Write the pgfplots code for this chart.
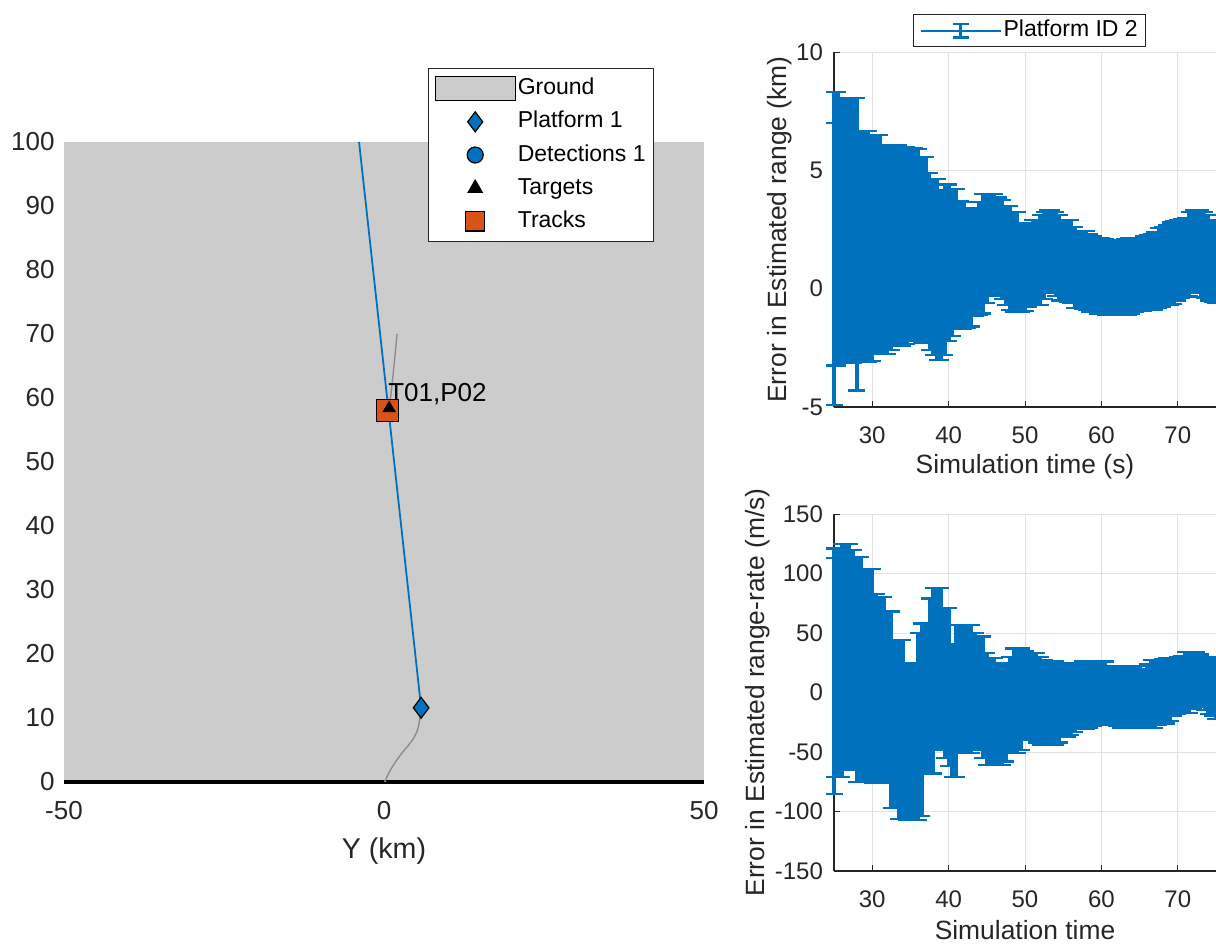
\documentclass[border=0pt]{standalone}
\usepackage{fontspec}
\setmainfont{Liberation Sans}
\usepackage{pgfplots}
\usepackage{pgfplotstable}
\pgfplotsset{compat=1.18}
\definecolor{mblue}{RGB}{0,114,189}
\definecolor{morange}{RGB}{217,83,25}
\definecolor{ground}{RGB}{204,204,204}
\definecolor{axgray}{RGB}{38,38,38}
\definecolor{gridgray}{RGB}{225,225,225}
\definecolor{pathgray}{RGB}{140,140,140}

% Error in estimated range (km): t, lower end, upper end of error bar
\pgfplotstableread{
t lo hi
25.0 -4.9 8.3
25.0 -3.25 7.0
25.5 -3.25 8.3
26.0 -3.15 8.05
26.5 -3.15 8.05
27.0 -3.15 8.05
27.5 -3.15 8.05
28.0 -4.3 8.05
28.5 -3.1 6.65
29.0 -3.1 6.65
29.5 -3.1 6.65
30.0 -3.05 6.5
30.5 -2.75 6.5
31.0 -2.75 6.5
31.5 -2.75 6.05
32.0 -2.75 6.05
32.5 -2.6 6.05
33.0 -2.4 6.05
33.5 -2.4 6.05
34.0 -2.4 6.0
34.5 -2.35 6.0
35.0 -2.2 5.95
35.5 -2.2 5.95
36.0 -2.2 5.9
36.5 -2.3 5.55
37.0 -2.3 5.55
37.5 -2.6 4.9
38.0 -2.8 4.65
38.5 -3.0 4.65
39.0 -3.0 4.15
39.5 -2.8 4.4
40.0 -2.2 4.4
40.5 -2.0 4.2
41.0 -1.7 4.2
41.5 -1.7 3.7
42.0 -1.7 3.65
42.5 -1.65 3.4
43.0 -1.6 3.4
43.5 -1.15 3.4
44.0 -1.1 3.65
44.5 -1.05 4.0
45.0 -0.6 4.0
45.5 -0.3 4.0
46.0 -0.3 4.0
46.5 -0.3 3.85
47.0 -0.45 3.75
47.5 -0.7 3.5
48.0 -0.9 3.5
48.5 -1.0 3.25
49.0 -1.0 3.25
49.5 -1.0 2.75
50.0 -0.95 2.75
50.5 -0.75 2.75
51.0 -0.7 2.9
51.5 -0.7 2.9
52.0 -0.7 3.1
52.5 -0.45 3.25
53.0 -0.2 3.3
53.5 -0.15 3.3
54.0 -0.3 3.25
54.5 -0.5 3.1
55.0 -0.5 2.9
55.5 -0.55 2.9
56.0 -0.6 2.9
56.5 -0.8 2.6
57.0 -0.8 2.45
57.5 -0.85 2.45
58.0 -0.9 2.45
58.5 -1.0 2.3
59.0 -1.0 2.2
59.5 -1.05 2.15
60.0 -1.05 2.15
60.5 -1.1 2.1
61.0 -1.1 2.05
61.5 -1.1 2.05
62.0 -1.1 2.05
62.5 -1.1 2.05
63.0 -1.1 2.1
63.5 -1.1 2.15
64.0 -1.05 2.15
64.5 -1.0 2.15
65.0 -0.95 2.15
65.5 -0.95 2.2
66.0 -0.9 2.25
66.5 -0.9 2.3
67.0 -0.9 2.4
67.5 -0.8 2.55
68.0 -0.75 2.6
68.5 -0.7 2.7
69.0 -0.7 2.8
69.5 -0.65 2.85
70.0 -0.5 2.9
70.5 -0.4 2.95
71.0 -0.35 3.0
71.5 -0.3 3.25
72.0 -0.2 3.3
72.5 -0.15 3.3
73.0 -0.35 3.3
73.5 -0.4 3.25
74.0 -0.5 3.1
74.5 -0.55 2.9
75.0 -0.6 2.9
}\rangeerr

% Error in estimated range-rate (m/s)
\pgfplotstableread{
t lo hi
25.0 -85 121
25.0 -71 113
25.5 -71 121
26.0 -71 125
26.5 -65 125
27.0 -65 125
27.5 -65 120
28.0 -75 114
28.5 -75 114
29.0 -75 104
29.5 -75 104
30.0 -76 104
30.5 -76 83
31.0 -76 80
31.5 -76 80
32.0 -76 68
32.5 -97 68
33.0 -97 44
33.5 -106 44
34.0 -106 44
34.5 -107 25
35.0 -107 25
35.5 -107 25
36.0 -107 50
36.5 -104 58
37.0 -68 58
37.5 -68 79
38.0 -68 88
38.5 -48 88
39.0 -48 88
39.5 -55 71
40.0 -62 71
40.5 -71 41
41.0 -71 57
41.5 -51 57
42.0 -51 57
42.5 -51 57
43.0 -51 57
43.5 -48 50
44.0 -48 47
44.5 -55 47
45.0 -61 33
45.5 -61 29
46.0 -61 29
46.5 -61 25
47.0 -61 25
47.5 -58 25
48.0 -51 30
48.5 -51 37
49.0 -51 37
49.5 -48 37
50.0 -40 35
50.5 -40 33
51.0 -40 33
51.5 -42 33
52.0 -44 30
52.5 -44 27
53.0 -44 26
53.5 -44 26
54.0 -44 26
54.5 -42 25
55.0 -37 25
55.5 -37 25
56.0 -36 25
56.5 -33 25
57.0 -31 25
57.5 -31 26
58.0 -31 26
58.5 -30 26
59.0 -28 26
59.5 -27 26
60.0 -27 26
60.5 -27 26
61.0 -27 22
61.5 -27 22
62.0 -28 22
62.5 -30 22
63.0 -30 22
63.5 -30 22
64.0 -30 22
64.5 -30 22
65.0 -30 22
65.5 -30 20
66.0 -30 24
66.5 -30 27
67.0 -30 27
67.5 -27 27
68.0 -26 28
68.5 -26 29
69.0 -24 29
69.5 -20 29
70.0 -18 30
70.5 -17 31
71.0 -17 34
71.5 -17 34
72.0 -14 34
72.5 -12 34
73.0 -12 32
73.5 -15 30
74.0 -18 30
74.5 -20 28
75.0 -22 26
}\rateerr

\pgfplotsset{
  rightax/.style={
    scale only axis, width=191pt,
    xmin=25, xmax=75, xtick={30,40,50,60,70},
    xticklabels={30,40,50,60,70},
    clip=false,
    axis lines*=left,
    axis line style={axgray, line width=0.6pt},
    tick align=inside, major tick length=3pt,
    tick style={axgray, line width=0.5pt},
    grid=major, grid style={gridgray, line width=0.5pt},
    ticklabel style={font=\fontsize{12}{14}\selectfont, text=axgray},
    xticklabel style={yshift=-6.5pt},
    yticklabel style={xshift=-2pt},
    label style={font=\fontsize{13.2}{15}\selectfont, text=axgray},
  },
  ebar/.style={mblue, line width=0.6pt, forget plot,
    error bars/.cd, y dir=both, y explicit,
    error mark=-,
    error bar style={mblue, line width=1.95pt},
    error mark options={rotate=90, mblue, line width=1.1pt, mark size=4.25pt}},
}

\begin{document}
\begin{tikzpicture}
\useasboundingbox (0,0) rectangle (608pt,472pt);

% ---------------- left: theater plot ----------------
\begin{axis}[
  at={(32pt,81pt)}, anchor=south west,
  scale only axis, width=320pt, height=320pt,
  xmin=-50, xmax=50, ymin=0, ymax=100,
  clip=false,
  xtick={-50,0,50}, xticklabels={-50,0,50},
  ytick={0,10,20,30,40,50,60,70,80,90,100},
  yticklabels={0,10,20,30,40,50,60,70,80,90,100},
  axis line style={draw=none}, major tick length=0pt,
  ticklabel style={font=\fontsize{13}{15}\selectfont, text=axgray},
  xticklabel style={yshift=-6.2pt},
  yticklabel style={xshift=-1.2pt},
  xlabel={Y (km)},
  xlabel style={font=\fontsize{14.3}{16}\selectfont, text=axgray,
    at={(axis description cs:0.5,-0.1078)}, anchor=center},
  legend cell align=left,
  legend style={at={(axis description cs:0.56875,1.1156)}, anchor=north west,
    draw=axgray, line width=0.6pt, fill=white,
    font=\fontsize{11.5}{13}\selectfont,
    inner xsep=3pt, inner ysep=3.5pt, row sep=3.6pt,
    nodes={inner sep=1pt, text height=8.5pt, text depth=2.5pt}},
]
\addplot[fill=ground, draw=none, forget plot] coordinates {(-50,100) (50,100)} \closedcycle;
\addplot[black, line width=1.8pt, forget plot] coordinates {(-50,0) (50,0)};
% platform past path
\addplot[pathgray, line width=0.7pt, smooth, forget plot] coordinates {
  (0.1,0) (0.8,1.5) (1.7,3.0) (2.7,4.4) (3.7,5.6) (4.6,6.8) (5.2,8.0) (5.5,9.3) (5.7,10.6) (5.8,11.6)};
% target path
\addplot[pathgray, line width=0.7pt, forget plot] coordinates {(0.8,58.1) (1.3,62.5) (2.05,70.0)};
% track and target
\addplot[only marks, mark=square*, mark size=5.5pt, mark options={fill=morange, draw=black, line width=0.6pt}, forget plot]
  coordinates {(0.6,58.1)};
\addplot[only marks, mark=triangle*, mark size=3.5pt, mark options={fill=black, draw=black}, forget plot]
  coordinates {(0.8,58.4)};
% platform line of sight
\addplot[mblue, line width=0.9pt, forget plot] coordinates {(5.8,11.6) (-3.9,100)};
% platform
\addplot[only marks, mark=diamond*, mark size=5.2pt, mark options={fill=mblue, draw=black, line width=0.6pt}, forget plot]
  coordinates {(5.8,11.6)};
\node[anchor=west, inner sep=0pt, font=\fontsize{13}{15}\selectfont] at (axis cs:0.6,60.6) {T01,P02};

\addlegendimage{legend image code/.code={
  \draw[fill=ground, draw=black, line width=0.6pt] (0pt,-6pt) rectangle (40pt,6pt);}}
\addlegendentry{Ground}
\addlegendimage{legend image code/.code={
  \path[draw=none] (0pt,0pt) -- (40pt,0pt);
  \path[draw=none] plot[mark=diamond*, mark size=5pt, mark options={fill=mblue, draw=black, line width=0.6pt}] coordinates {(20pt,0pt)};}}
\addlegendentry{Platform 1}
\addlegendimage{legend image code/.code={
  \path[draw=none] (0pt,0pt) -- (40pt,0pt);
  \path[draw=none] plot[mark=*, mark size=4pt, mark options={fill=mblue, draw=black, line width=0.6pt}] coordinates {(20pt,0pt)};}}
\addlegendentry{Detections 1}
\addlegendimage{legend image code/.code={
  \path[draw=none] (0pt,0pt) -- (40pt,0pt);
  \path[draw=none] plot[mark=triangle*, mark size=4pt, mark options={fill=black, draw=black}] coordinates {(20pt,0pt)};}}
\addlegendentry{Targets}
\addlegendimage{legend image code/.code={
  \path[draw=none] (0pt,0pt) -- (40pt,0pt);
  \path[draw=none] plot[mark=square*, mark size=4.8pt, mark options={fill=morange, draw=black, line width=0.6pt}] coordinates {(20pt,0pt)};}}
\addlegendentry{Tracks}
\end{axis}

% ---------------- top right: range error ----------------
\begin{axis}[rightax,
  at={(417pt,268.5pt)}, anchor=south west, height=177.5pt,
  ymin=-5, ymax=10, ytick={-5,0,5,10}, yticklabels={-5,0,5,10},
  xlabel={Simulation time (s)},
  ylabel={Error in Estimated range (km)},
  xlabel style={at={(axis description cs:0.5,-0.169)}, anchor=center},
  ylabel style={at={(axis description cs:-0.1414,0.5)}, anchor=center},
  legend cell align=left,
  legend style={at={(axis description cs:0.2068,1.107)}, anchor=north west,
    draw=axgray, line width=0.6pt, fill=white,
    font=\fontsize{11.5}{13}\selectfont,
    inner xsep=3pt, inner ysep=1.5pt,
    nodes={inner sep=1pt, text height=8.5pt, text depth=2.5pt}},
]
\addplot[ebar] table[x=t, y expr={(\thisrow{hi}+\thisrow{lo})/2}, y error expr={(\thisrow{hi}-\thisrow{lo})/2}] {\rangeerr};
\addlegendimage{legend image code/.code={
  \draw[mblue, line width=1pt] (0pt,0pt) -- (40pt,0pt);
  \draw[mblue, line width=1.6pt] (20pt,-3.4pt) -- (20pt,3.4pt);
  \draw[mblue, line width=1.1pt] (16pt,3.4pt) -- (24pt,3.4pt);
  \draw[mblue, line width=1.1pt] (16pt,-3.4pt) -- (24pt,-3.4pt);}}
\addlegendentry{Platform ID 2}
\end{axis}

% ---------------- bottom right: range-rate error ----------------
\begin{axis}[rightax,
  at={(417pt,36.5pt)}, anchor=south west, height=178.5pt,
  ymin=-150, ymax=150, ytick={-150,-100,-50,0,50,100,150},
  yticklabels={-150,-100,-50,0,50,100,150},
  xlabel={Simulation time},
  ylabel={Error in Estimated range-rate (m/s)},
  xlabel style={at={(axis description cs:0.5,-0.1653)}, anchor=center},
  ylabel style={at={(axis description cs:-0.199,0.5)}, anchor=center},
]
\addplot[ebar] table[x=t, y expr={(\thisrow{hi}+\thisrow{lo})/2}, y error expr={(\thisrow{hi}-\thisrow{lo})/2}] {\rateerr};
\end{axis}
\end{tikzpicture}
\end{document}
